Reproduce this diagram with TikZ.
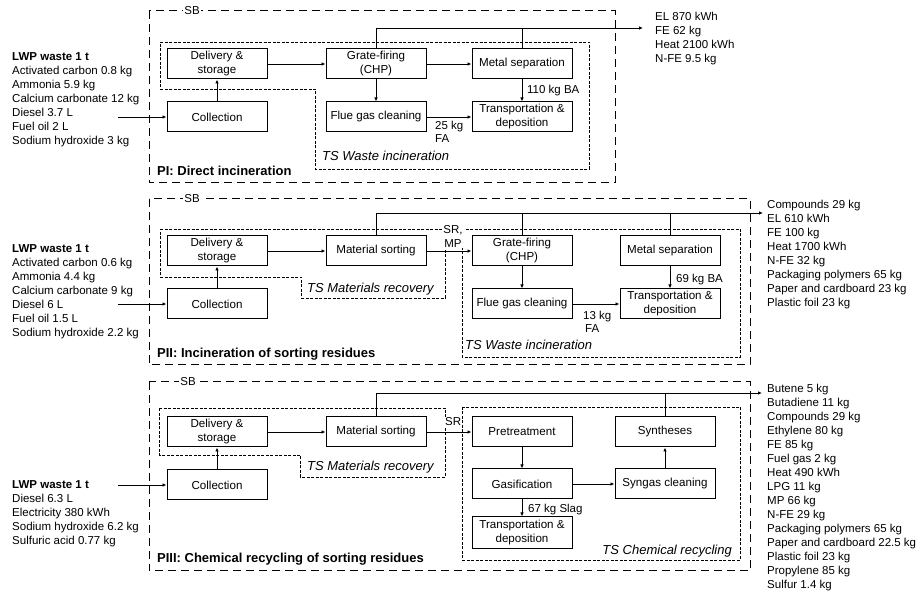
\documentclass[tikz,border=0pt]{standalone}
\usepackage{fontspec}
\setmainfont{Liberation Sans}
\usetikzlibrary{arrows.meta}
\tikzset{
 box/.style={draw, line width=1pt, minimum width=100pt, minimum height=30pt, align=center, inner sep=0pt, font=\fontsize{11.6}{14}\selectfont},
 arr/.style={line width=0.9pt, -{Latex[length=4pt,width=3.5pt]}},
 ln/.style={line width=0.9pt},
 sbbox/.style={line width=1pt, dash pattern=on 8pt off 5pt},
 tsbox/.style={line width=0.8pt, dash pattern=on 3pt off 1.5pt},
 txt/.style={anchor=base west, inner sep=0pt, font=\fontsize{11.5}{14}\selectfont},
 ttl/.style={anchor=base west, inner sep=0pt, font=\fontsize{13}{15}\selectfont\bfseries},
 tsl/.style={anchor=base west, inner sep=0pt, font=\fontsize{13}{15}\selectfont\itshape},
 sbl/.style={fill=white, inner sep=1.5pt, font=\fontsize{11.5}{14}\selectfont},
 edl/.style={anchor=base west, inner sep=0pt, align=left, font=\fontsize{11.5}{13}\selectfont},
}
\begin{document}
\begin{tikzpicture}[x=1pt,y=-1pt]
\useasboundingbox (0,0) rectangle (922,593);

% ================= Panel I =================
\draw[sbbox] (149,11) rectangle (615,183);
\node[sbl] (sbI) at (192,11) {SB};
\draw[tsbox] (160,42) -- (589,42) -- (589,169) -- (315,169) -- (315,89) -- (160,89) -- cycle;
\node[tsl] (tsI) at (322,160.5) {TS Waste incineration};
\node[ttl] (tI) at (157,175.5) {PI: Direct incineration};

\node[txt] (hI) at (12,61) {\textbf{LWP waste 1 t}};
\foreach \t [count=\i] in {Activated carbon 0.8 kg, Ammonia 5.9 kg, Calcium carbonate 12 kg, Diesel 3.7 L, Fuel oil 2 L, Sodium hydroxide 3 kg}
  \node[txt] (lI\i) at (12,{75+14*(\i-1)}) {\t};
\foreach \t [count=\i] in {EL 870 kWh, FE 62 kg, Heat 2100 kWh, N-FE 9.5 kg}
  \node[txt] (rI\i) at (655,{21+14*(\i-1)}) {\t};

\node[box] (dsI) at (217,64) {Delivery \&\\storage};
\node[box] (colI) at (217,117) {Collection};
\node[box] (gfI) at (376,64) {Grate-firing\\(CHP)};
\node[box] (fgI) at (376,117) {Flue gas cleaning};
\node[box] (msI) at (522,64) {Metal separation};
\node[box] (tdI) at (522,117) {Transportation \&\\deposition};

\coordinate (inI) at (118,117);
\coordinate (outI) at (643,28);
\draw[arr] (inI) -- (colI.west);
\draw[arr] (colI.north) -- (dsI.south);
\draw[arr] (dsI.east) -- (gfI.west);
\draw[arr] (gfI.east) -- (msI.west);
\draw[arr] (gfI.south) -- (fgI.north);
\draw[arr] (fgI.east) -- (tdI.west);
\draw[arr] (msI.south) -- (tdI.north);
\draw[arr] (gfI.north) |- (outI);
\draw[ln] (msI.north) -- (msI.north |- outI);
\node[edl] (baI) at (527,94) {110 kg BA};
\node[edl] (faI) at (435,143) {25 kg\\FA};

% ================= Panel II =================
\draw[sbbox] (149,199) rectangle (750,365);
\node[sbl] (sbII) at (192,199) {SB};
\draw[tsbox] (160,229) -- (445,229) -- (445,298) -- (301,298) -- (301,277) -- (160,277) -- cycle;
\draw[tsbox] (462,229) rectangle (740,357);
\node[tsl] (tsIIa) at (307,292.5) {TS Materials recovery};
\node[tsl] (tsIIb) at (465,349.5) {TS Waste incineration};
\node[ttl] (tII) at (157,357.5) {PII: Incineration of sorting residues};
\node[fill=white, inner sep=1pt, align=center, font=\fontsize{11.5}{14}\selectfont] (srII) at (453,236) {SR,\\MP};

\node[txt] (hII) at (12,253) {\textbf{LWP waste 1 t}};
\foreach \t [count=\i] in {Activated carbon 0.6 kg, Ammonia 4.4 kg, Calcium carbonate 9 kg, Diesel 6 L, Fuel oil 1.5 L, Sodium hydroxide 2.2 kg}
  \node[txt] (lII\i) at (12,{267+14*(\i-1)}) {\t};
\foreach \t [count=\i] in {Compounds 29 kg, EL 610 kWh, FE 100 kg, Heat 1700 kWh, N-FE 32 kg, Packaging polymers 65 kg, Paper and cardboard 23 kg, Plastic foil 23 kg}
  \node[txt] (rII\i) at (767,{209+14*(\i-1)}) {\t};

\node[box] (dsII) at (217,251) {Delivery \&\\storage};
\node[box] (colII) at (217,304) {Collection};
\node[box] (matII) at (376,251) {Material sorting};
\node[box] (gfII) at (522,251) {Grate-firing\\(CHP)};
\node[box] (fgII) at (522,304) {Flue gas cleaning};
\node[box] (msII) at (670,251) {Metal separation};
\node[box] (tdII) at (670,304) {Transportation \&\\deposition};

\coordinate (inII) at (118,304);
\coordinate (outII) at (763,213);
\draw[arr] (inII) -- (colII.west);
\draw[arr] (colII.north) -- (dsII.south);
\draw[arr] (dsII.east) -- (matII.west);
\draw[arr] (matII.east) -- (gfII.west);
\draw[arr] (gfII.south) -- (fgII.north);
\draw[arr] (fgII.east) -- (tdII.west);
\draw[arr] (msII.south) -- (tdII.north);
\draw[arr] (matII.north) |- (outII);
\draw[ln] (gfII.north) -- (gfII.north |- outII);
\draw[ln] (msII.north) -- (msII.north |- outII);
\node[edl] (baII) at (676,283) {69 kg BA};
\node[edl] (faII) at (583,333) {13 kg\\\hspace*{2pt}FA};

% ================= Panel III =================
\draw[sbbox] (149,382) rectangle (750,571);
\node[sbl] (sbIII) at (188,382) {SB};
\draw[tsbox] (159,408) -- (445,408) -- (445,477) -- (300,477) -- (300,455) -- (159,455) -- cycle;
\draw[tsbox] (462,407) rectangle (740,560);
\node[tsl] (tsIIIa) at (307,470.5) {TS Materials recovery};
\node[tsl, anchor=base east] (tsIIIb) at (732,554.5) {TS Chemical recycling};
\node[ttl] (tIII) at (157,562.5) {PIII: Chemical recycling of sorting residues};
\node[fill=white, inner sep=1pt, anchor=west, font=\fontsize{11.5}{14}\selectfont] (srIII) at (444,422) {SR};

\node[txt] (hIII) at (12,489) {\textbf{LWP waste 1 t}};
\foreach \t [count=\i] in {Diesel 6.3 L, Electricity 380 kWh, Sodium hydroxide 6.2 kg, Sulfuric acid 0.77 kg}
  \node[txt] (lIII\i) at (12,{503+14*(\i-1)}) {\t};
\foreach \t [count=\i] in {Butene 5 kg, Butadiene 11 kg, Compounds 29 kg, Ethylene 80 kg, FE 85 kg, Fuel gas 2 kg, Heat 490 kWh, LPG 11 kg, MP 66 kg, N-FE 29 kg, Packaging polymers 65 kg, Paper and cardboard 22.5 kg, Plastic foil 23 kg, Propylene 85 kg, Sulfur 1.4 kg}
  \node[txt] (rIII\i) at (767,{393+14*(\i-1)}) {\t};

\node[box] (dsIII) at (217,432) {Delivery \&\\storage};
\node[box] (colIII) at (217,485) {Collection};
\node[box] (matIII) at (376,432) {Material sorting};
\node[box] (ptIII) at (522,432) {Pretreatment};
\node[box] (gaIII) at (522,484) {Gasification};
\node[box, minimum height=32pt] (tdIII) at (522,533) {Transportation \&\\deposition};
\node[box] (syIII) at (665,432) {Syntheses};
\node[box] (scIII) at (665,484) {Syngas cleaning};

\coordinate (inIII) at (118,485);
\coordinate (outIII) at (762,393);
\draw[arr] (inIII) -- (colIII.west);
\draw[arr] (colIII.north) -- (dsIII.south);
\draw[arr] (dsIII.east) -- (matIII.west);
\draw[arr] (matIII.east) -- (ptIII.west);
\draw[arr] (ptIII.south) -- (gaIII.north);
\draw[arr] (gaIII.east) -- (scIII.west);
\draw[arr] (scIII.north) -- (syIII.south);
\draw[arr] (gaIII.south) -- (tdIII.north);
\draw[arr] (matIII.north) |- (outIII);
\draw[ln] (syIII.north) -- (syIII.north |- outIII);
\node[edl] (slIII) at (528,513) {67 kg Slag};
\end{tikzpicture}
\end{document}
